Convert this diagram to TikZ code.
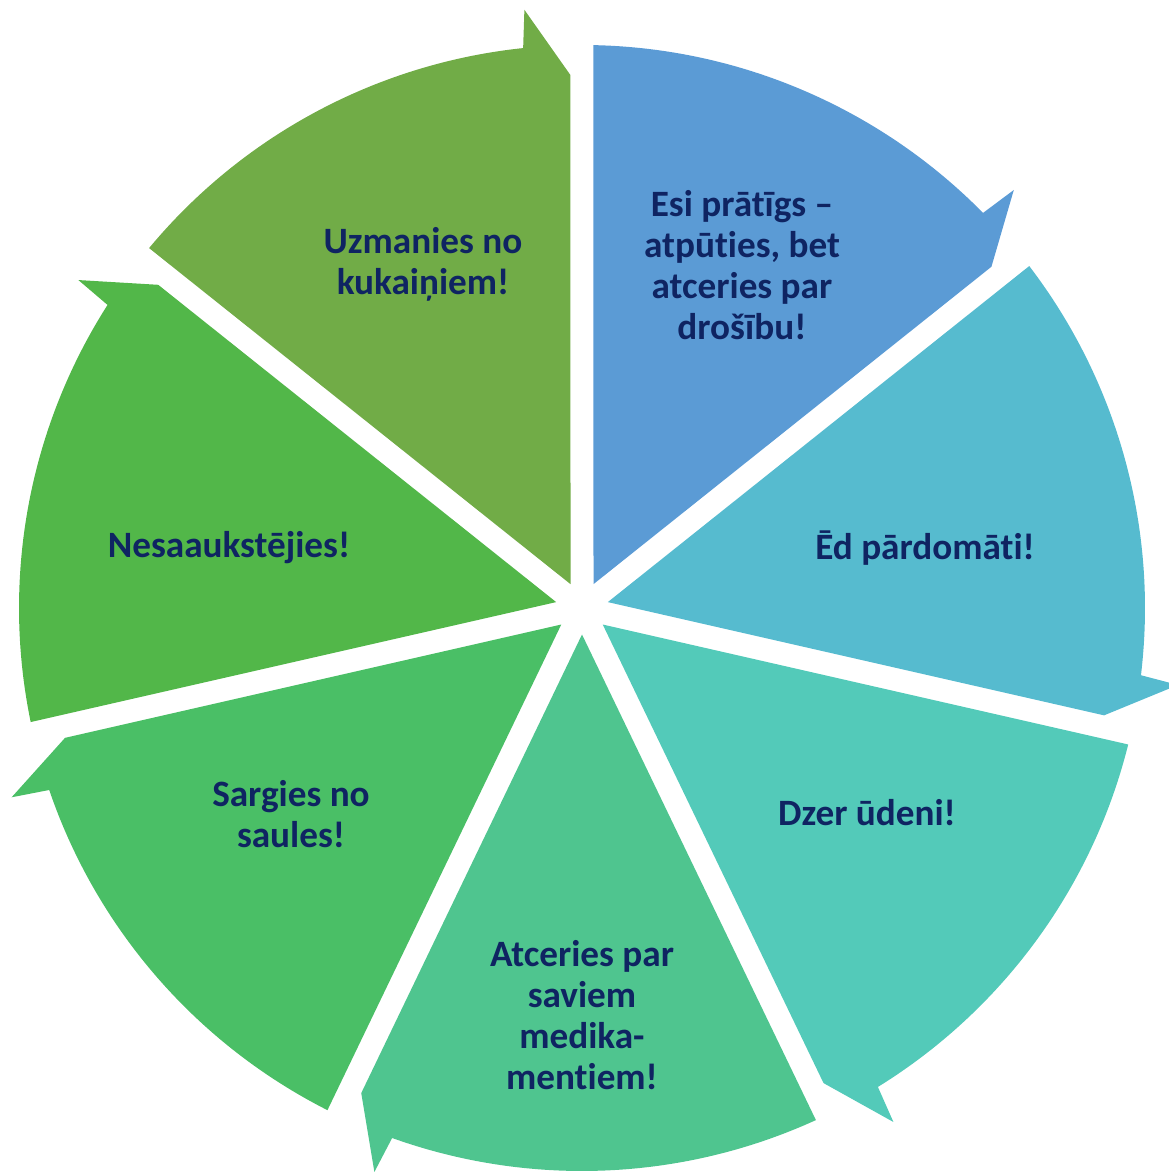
\documentclass[tikz,border=0pt]{standalone}
\usepackage{fontspec}
\setmainfont{Carlito}[Ligatures={TeX,NoCommon}]
\usepackage{tikz}
\definecolor{segA}{HTML}{5B9BD5}
\definecolor{segB}{HTML}{56BBCF}
\definecolor{segC}{HTML}{53CAB9}
\definecolor{segD}{HTML}{4FC58F}
\definecolor{segE}{HTML}{4ABF66}
\definecolor{segF}{HTML}{52B749}
\definecolor{segG}{HTML}{71AC47}
\definecolor{txt}{HTML}{0F2462}

\begin{document}
\begin{tikzpicture}[x=0.5pt,y=0.5pt,
        lbl/.style={text=txt,font=\bfseries\fontsize{18.6}{20.5}\selectfont,
          align=center,inner sep=0pt}]
        \useasboundingbox (-582,-564) rectangle (586,608);

        % slices, each one ends in an arrow tip at its clockwise side
        \foreach \a/\c in {38.57/segA, -12.86/segB, -64.29/segC,
          -115.71/segD, -167.14/segE, 141.43/segF, 90/segG}
        \fill[\c] (\a+25.71:26.5) -- (\a+1.24:533) -- (\a+5.5:601)
          -- (\a+6:563) arc[start angle=\a+6, end angle=\a+50.26,
          radius=563] -- cycle;

        \node[lbl] (esi) at (160,343) {Esi prātīgs –\\atpūties, bet\\atceries par\\drošību!};
        \node[lbl] (ed) at (343,60) {Ēd pārdomāti!};
        \node[lbl] (dzer) at (285,-205) {Dzer ūdeni!};
        \node[lbl] (medik) at (0,-407) {Atceries par\\saviem\\medika-\\mentiem!};
        \node[lbl] (saule) at (-291,-206) {Sargies no\\saules!};
        \node[lbl] (auksts) at (-353,60) {Nesaaukstējies!};
        \node[lbl] (kukaini) at (-159,344) {Uzmanies no\\kukaiņiem!};
      \end{tikzpicture}
\end{document}
